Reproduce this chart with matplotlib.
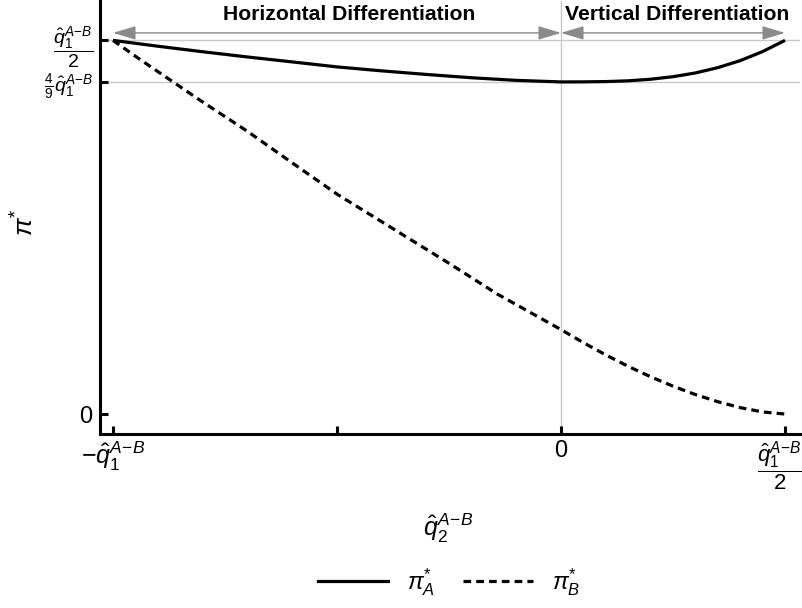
import matplotlib
matplotlib.use("Agg")
import matplotlib.pyplot as plt
from matplotlib.lines import Line2D
from matplotlib.transforms import ScaledTranslation

plt.rcParams['font.family'] = ['Liberation Sans', 'DejaVu Sans']
plt.rcParams['mathtext.fontset'] = 'custom'
plt.rcParams['mathtext.rm'] = 'Liberation Sans'
plt.rcParams['mathtext.it'] = 'Liberation Sans:italic'
plt.rcParams['mathtext.bf'] = 'Liberation Sans:bold'

# x in units of q1 (from -q1 to q1/2), profits in units of q1
x_A = [-1.0, -0.9, -0.8, -0.7, -0.6, -0.5, -0.4, -0.3, -0.2, -0.1, 0.0,
       0.05, 0.1, 0.15, 0.2, 0.25, 0.3, 0.35, 0.4, 0.45, 0.5]
pi_A = [0.5, 0.4922, 0.4848, 0.4778, 0.4712, 0.4645, 0.4592, 0.4544, 0.4500, 0.4465, 0.4444,
        0.4445, 0.4449, 0.4459, 0.4480, 0.4514, 0.4564, 0.4635, 0.4729, 0.4850, 0.5]

x_B = [-1.0, -0.94, -0.806, -0.7016, -0.575, -0.498, -0.356, -0.248, -0.1435, 0.0,
       0.05, 0.1, 0.15, 0.2, 0.25, 0.3, 0.35, 0.4, 0.45, 0.5]
pi_B = [0.5, 0.4746, 0.420, 0.379, 0.3256, 0.2935, 0.241, 0.201, 0.161, 0.113,
        0.0955, 0.0791, 0.0638, 0.0499, 0.0373, 0.0261, 0.0165, 0.0086, 0.0028, 0.0]

x_ticks = [-1.0, -0.5, 0.0, 0.5]
x_ticklabels = [r'$-\hat{q}_1^{A\!-\!B}$', '', r'$0$', r'$\dfrac{\hat{q}_1^{A\!-\!B}}{2}$']
y_ticks = [0.0, 4/9, 0.5]
y_ticklabels = [r'$0$', r'$\frac{4}{9}\hat{q}_1^{A\!-\!B}$', r'$\dfrac{\hat{q}_1^{A\!-\!B}}{2}$']

regions = ['Horizontal Differentiation', 'Vertical Differentiation']
region_bounds = [(-1.0, 0.0), (0.0, 0.5)]
region_text_x = [-0.473, 0.259]

fig = plt.figure(figsize=(8.03, 6.08), dpi=100)
ax = fig.add_axes([100/803, 1 - 434/608, 700/803, 434/608 - 0.002])

ax.set_xlim(-1.029, 0.5335)
ax.set_ylim(-0.0267, 0.5524)

grid_c = '#c8c8c8'
for yv in [4/9, 0.5]:
    ax.axhline(yv, color=grid_c, lw=1.0, zorder=0)
ax.axvline(0.0, color=grid_c, lw=1.0, zorder=0)

ax.plot(x_A, pi_A, color='black', lw=2.3, solid_capstyle='butt', zorder=3)
ax.plot(x_B, pi_B, color='black', lw=2.3, linestyle=(0, (2.4, 1.6)), zorder=3)

arrow_y = 0.510
for (a, b), label, tx in zip(region_bounds, regions, region_text_x):
    ax.annotate('', xy=(a, arrow_y), xytext=(b, arrow_y),
                arrowprops=dict(arrowstyle='<|-|>,head_length=1.0,head_width=0.3',
                                color='#8a8a8a', lw=1.0, mutation_scale=14,
                                shrinkA=0, shrinkB=0), zorder=4)
    ax.text(tx, 0.534, label, ha='center', va='center', fontsize=15.2,
            fontweight='bold', zorder=5)

for s in ['top', 'right']:
    ax.spines[s].set_visible(False)
for s in ['left', 'bottom']:
    ax.spines[s].set_linewidth(2.2)

ax.set_xticks(x_ticks)
ax.set_xticklabels(x_ticklabels)
ax.set_yticks(y_ticks)
ax.set_yticklabels(y_ticklabels)
ax.tick_params(axis='both', direction='in', length=6, width=2.2)
ax.tick_params(axis='x', pad=4)
ax.tick_params(axis='y', pad=5)

xl = ax.get_xticklabels()
xl[0].set_fontsize(18)
xl[2].set_fontsize(17)
xl[3].set_fontsize(16)
xl[3].set_transform(xl[3].get_transform() + ScaledTranslation(-5/100, 0, fig.dpi_scale_trans))
yl = ax.get_yticklabels()
yl[0].set_fontsize(17)
yl[1].set_fontsize(14)
yl[2].set_fontsize(14)

fig.text(25/803, 1 - 222/608, r'$\pi^{*}$', rotation=90, ha='center', va='center', fontsize=19)
fig.text(448/803, 1 - 528/608, r'$\hat{q}_2^{A\!-\!B}$', ha='center', va='center', fontsize=18)

handles = [Line2D([], [], color='black', lw=2.3),
           Line2D([], [], color='black', lw=2.3, linestyle=(0, (2.4, 1.6)))]
fig.legend(handles, [r'$\pi_A^{*}$', r'$\pi_B^{*}$'], loc='center',
           bbox_to_anchor=(449/803, 1 - 582/608), ncol=2, frameon=False,
           fontsize=17, handlelength=2.95, columnspacing=1.2, handletextpad=0.8)

fig.savefig('out.png', dpi=100)
